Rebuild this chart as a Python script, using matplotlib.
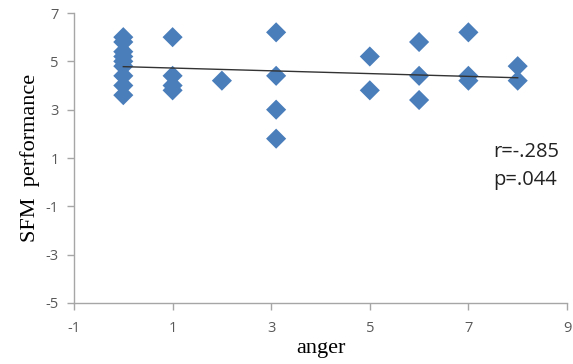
import matplotlib
matplotlib.use("Agg")
import matplotlib.pyplot as plt

anger = [0, 0, 0, 0, 0, 0, 0, 0, 0,
         1, 1, 1, 1,
         2,
         3.1, 3.1, 3.1, 3.1,
         5, 5,
         6, 6, 6,
         7, 7, 7,
         8, 8]
sfm = [6.0, 5.8, 5.4, 5.2, 5.0, 4.8, 4.4, 4.0, 3.6,
       6.0, 4.4, 4.0, 3.8,
       4.2,
       6.2, 4.4, 3.0, 1.8,
       5.2, 3.8,
       5.8, 4.4, 3.4,
       6.2, 4.4, 4.2,
       4.8, 4.2]
# linear trendline (fit on full sample, some points overlap)
trend_x = [0, 8]
trend_y = [4.78, 4.32]
xticks = [-1, 1, 3, 5, 7, 9]
yticks = [-5, -3, -1, 1, 3, 5, 7]
r_text = "r=-.285"
p_text = "p=.044"

W, H = 573, 364
fig = plt.figure(figsize=(W / 100, H / 100), dpi=100)
ax = fig.add_axes([74 / W, 1 - 303 / H, (567 - 74) / W, (303 - 13) / H])

ax.scatter(anger, sfm, marker='D', s=105, color='#4A7EBB', edgecolors='none', zorder=3)
ax.plot(trend_x, trend_y, color='#333333', lw=1.0, zorder=4)

ax.set_xlim(-1, 9)
ax.set_ylim(-5, 7)
ax.set_xticks(xticks)
ax.set_yticks(yticks)
ax.set_xticklabels([str(v) for v in xticks])
ax.set_yticklabels([str(v) for v in yticks])
for s in ['top', 'right']:
    ax.spines[s].set_visible(False)
for s in ['left', 'bottom']:
    ax.spines[s].set_color('#A6A6A6')
    ax.spines[s].set_linewidth(1.0)
ax.tick_params(axis='both', colors='#A6A6A6', length=5, width=1.0, direction='out',
               labelcolor='#595959', labelsize=10.5)
for lbl in ax.get_xticklabels() + ax.get_yticklabels():
    lbl.set_fontfamily('Open Sans')
ax.tick_params(axis='x', pad=8)
ax.tick_params(axis='y', pad=6)

ax.set_xlabel('anger', family='Liberation Serif', fontsize=16, color='black', labelpad=2)
ax.set_ylabel('SFM  performance', family='Liberation Serif', fontsize=16, color='black', labelpad=4)

fig.text(493 / W, 1 - 152 / H, r_text, family='Open Sans', fontsize=14.5,
         color='#222222', va='center', ha='left')
fig.text(493 / W, 1 - 180 / H, p_text, family='Open Sans', fontsize=14.5,
         color='#222222', va='center', ha='left')

fig.savefig('out.png', dpi=100)
